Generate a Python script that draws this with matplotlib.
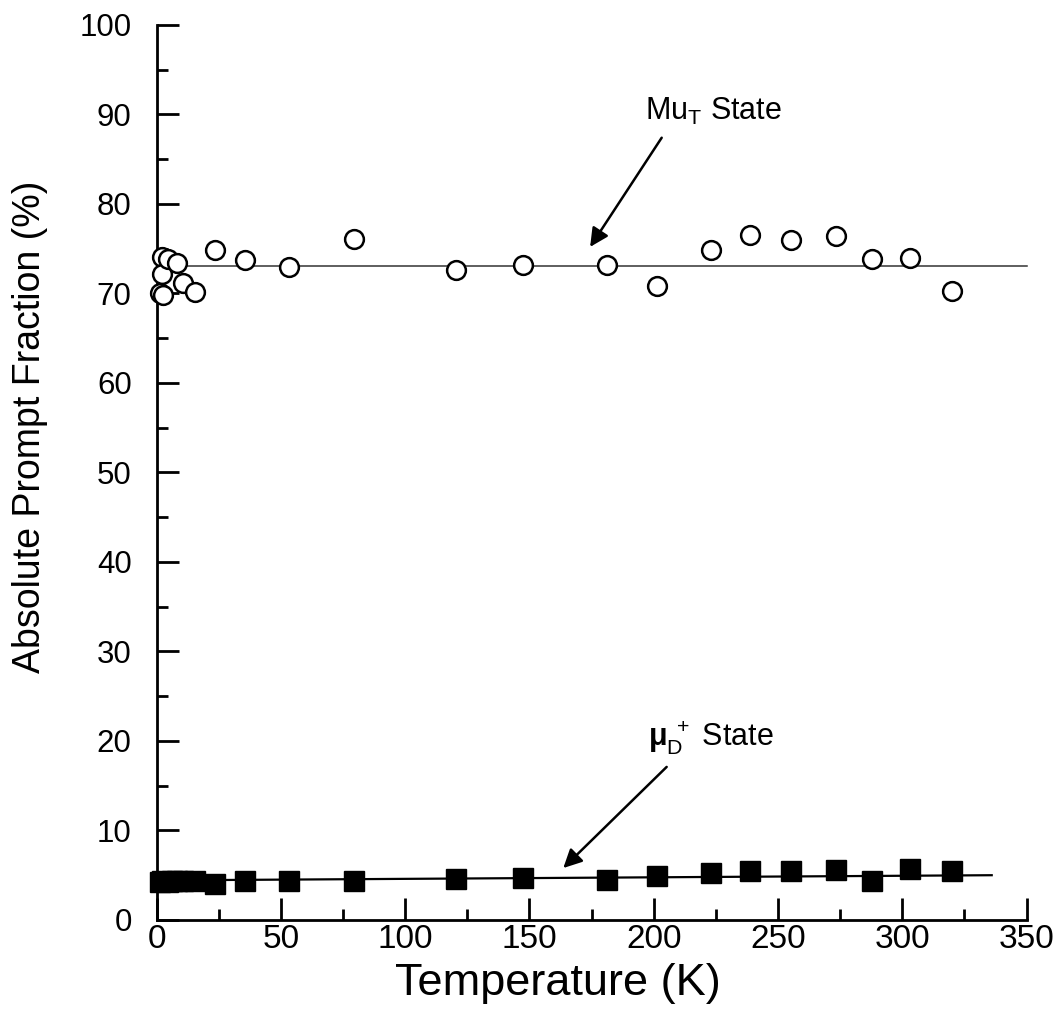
import matplotlib.pyplot as plt
from matplotlib.ticker import MultipleLocator

plt.rcParams['font.family'] = ['Liberation Sans', 'DejaVu Sans']
plt.rcParams['mathtext.fontset'] = 'custom'
plt.rcParams['mathtext.rm'] = 'Liberation Sans'
plt.rcParams['mathtext.it'] = 'Liberation Sans:italic'
plt.rcParams['mathtext.bf'] = 'Liberation Sans:bold'

# Temperaturas (K) e frações absolutas (%)
temp_mu = [1.3, 2.1, 2.1, 2.4, 4.5, 8.2, 10.6, 15.4, 23.5, 35.5, 53.2, 79.4,
           120.4, 147.4, 181.2, 201.3, 223.0, 238.7, 255.2, 273.4, 287.8,
           303.1, 320.0]
frac_mu = [70.1, 74.1, 72.2, 69.8, 73.8, 73.4, 71.2, 70.2, 74.9, 73.7, 73.0,
           76.1, 72.6, 73.2, 73.2, 70.8, 74.9, 76.5, 76.0, 76.4, 73.9, 74.0,
           70.3]

temp_d = [1.3, 2.1, 4.5, 6.2, 8.2, 10.6, 15.4, 23.5, 35.5, 53.2, 79.4, 120.4,
          147.4, 181.2, 201.3, 223.0, 238.7, 255.2, 273.4, 287.8, 303.1, 320.0]
frac_d = [4.2, 4.3, 4.2, 4.4, 4.3, 4.4, 4.3, 4.0, 4.4, 4.4, 4.4, 4.6, 4.7, 4.5,
          4.9, 5.3, 5.5, 5.5, 5.6, 4.4, 5.7, 5.5]

# Ajustes lineares
ajuste_mu_T = [0, 350]
ajuste_mu_y = [73.07, 73.07]
ajuste_d_T = [0, 336]
ajuste_d_y = [4.42, 5.0]

fig = plt.figure(figsize=(10.61, 10.31), dpi=100)
ax = fig.add_axes([0.1477, 0.1077, 0.8198, 0.8681])

ax.plot(ajuste_mu_T, ajuste_mu_y, color='#333333', lw=1.1, clip_on=False, zorder=2)
ax.plot(ajuste_d_T, ajuste_d_y, color='black', lw=1.6, clip_on=False, zorder=2)

ax.plot(temp_mu, frac_mu, 'o', ms=13.5, mfc='white', mec='black', mew=1.8,
        clip_on=False, zorder=3)
ax.plot(temp_d, frac_d, 's', ms=14, mfc='black', mec='black',
        clip_on=False, zorder=3)

# Rótulos dos estados
ax.text(196.5, 90.3, r'Mu$_{\mathrm{T}}$ State', fontsize=22, va='center', ha='left')
ax.annotate('', xy=(174.4, 75.2), xytext=(203.2, 87.4),
            arrowprops=dict(arrowstyle='-|>', color='black', lw=1.8,
                            mutation_scale=28, shrinkA=0, shrinkB=0))
ax.text(197.7, 20.4, r'$\mathbf{\mu}_{\mathrm{D}}^{\ +}$ State', fontsize=22,
        va='center', ha='left')
ax.annotate('', xy=(163.6, 5.8), xytext=(205.2, 17.1),
            arrowprops=dict(arrowstyle='-|>', color='black', lw=1.8,
                            mutation_scale=28, shrinkA=0, shrinkB=0))

ax.set_xlim(0, 350)
ax.set_ylim(0, 100)
ax.xaxis.set_major_locator(MultipleLocator(50))
ax.xaxis.set_minor_locator(MultipleLocator(25))
ax.yaxis.set_major_locator(MultipleLocator(10))
ax.yaxis.set_minor_locator(MultipleLocator(5))

for lado in ['top', 'right']:
    ax.spines[lado].set_visible(False)
for lado in ['left', 'bottom']:
    ax.spines[lado].set_linewidth(2)

ax.tick_params(which='both', direction='in', width=2)
ax.tick_params(which='major', length=16)
ax.tick_params(which='minor', length=8)
ax.tick_params(axis='y', pad=18, labelsize=22.5)
ax.tick_params(axis='x', pad=3, labelsize=24)

ax.set_xlabel('Temperature (K)', fontsize=32.5)
ax.set_ylabel('Absolute Prompt Fraction (%)', fontsize=27)
ax.xaxis.set_label_coords(0.461, -0.048)
ax.yaxis.set_label_coords(-0.125, 0.551)

plt.savefig('out.png', dpi=100)
